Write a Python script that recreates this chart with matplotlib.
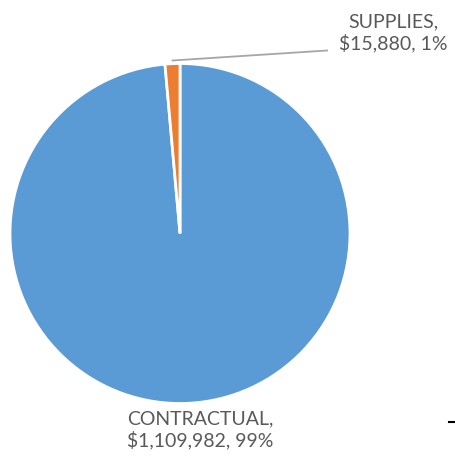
import matplotlib
matplotlib.use("Agg")
import matplotlib.pyplot as plt
from matplotlib.lines import Line2D

categories = ["CONTRACTUAL", "SUPPLIES"]
values = [1109982, 15880]
colors = ["#5B9BD5", "#ED7D31"]

W, H = 455, 460
fig = plt.figure(figsize=(W / 100, H / 100), dpi=100)
plt.rcParams['font.family'] = ['Lato', 'DejaVu Sans']

# pie centre and radius in pixels
cx, cy, r = 180, 234.5, 170
ax = fig.add_axes([(cx - r) / W, 1 - (cy + r) / H, 2 * r / W, 2 * r / H])
ax.pie(values, colors=colors, startangle=90, counterclock=False,
       wedgeprops=dict(edgecolor="white", linewidth=2))
ax.set_xlim(-1, 1)
ax.set_ylim(-1, 1)
ax.set_aspect("equal")
ax.axis("off")

total = sum(values)
labels = [f"{c},\n${v:,}, {round(100 * v / total):.0f}%" for c, v in zip(categories, values)]

txt_kw = dict(color="#595959", fontsize=14, ha="center", va="center",
              linespacing=1.2, transform=fig.transFigure)
fig.text(200 / W, 1 - 430 / H, labels[0], **txt_kw)
fig.text(393 / W, 1 - 33 / H, labels[1], **txt_kw)

# leader line for the small slice
fig.add_artist(Line2D([172.5 / W, 327 / W], [1 - 61.5 / H, 1 - 51.5 / H],
                      color="#A6A6A6", linewidth=1.3, transform=fig.transFigure))
# short stroke at the lower right edge
fig.add_artist(Line2D([449 / W, 455 / W], [1 - 422.5 / H, 1 - 422.5 / H],
                      color="black", linewidth=1.5, transform=fig.transFigure))

fig.savefig("out.png", dpi=100)
